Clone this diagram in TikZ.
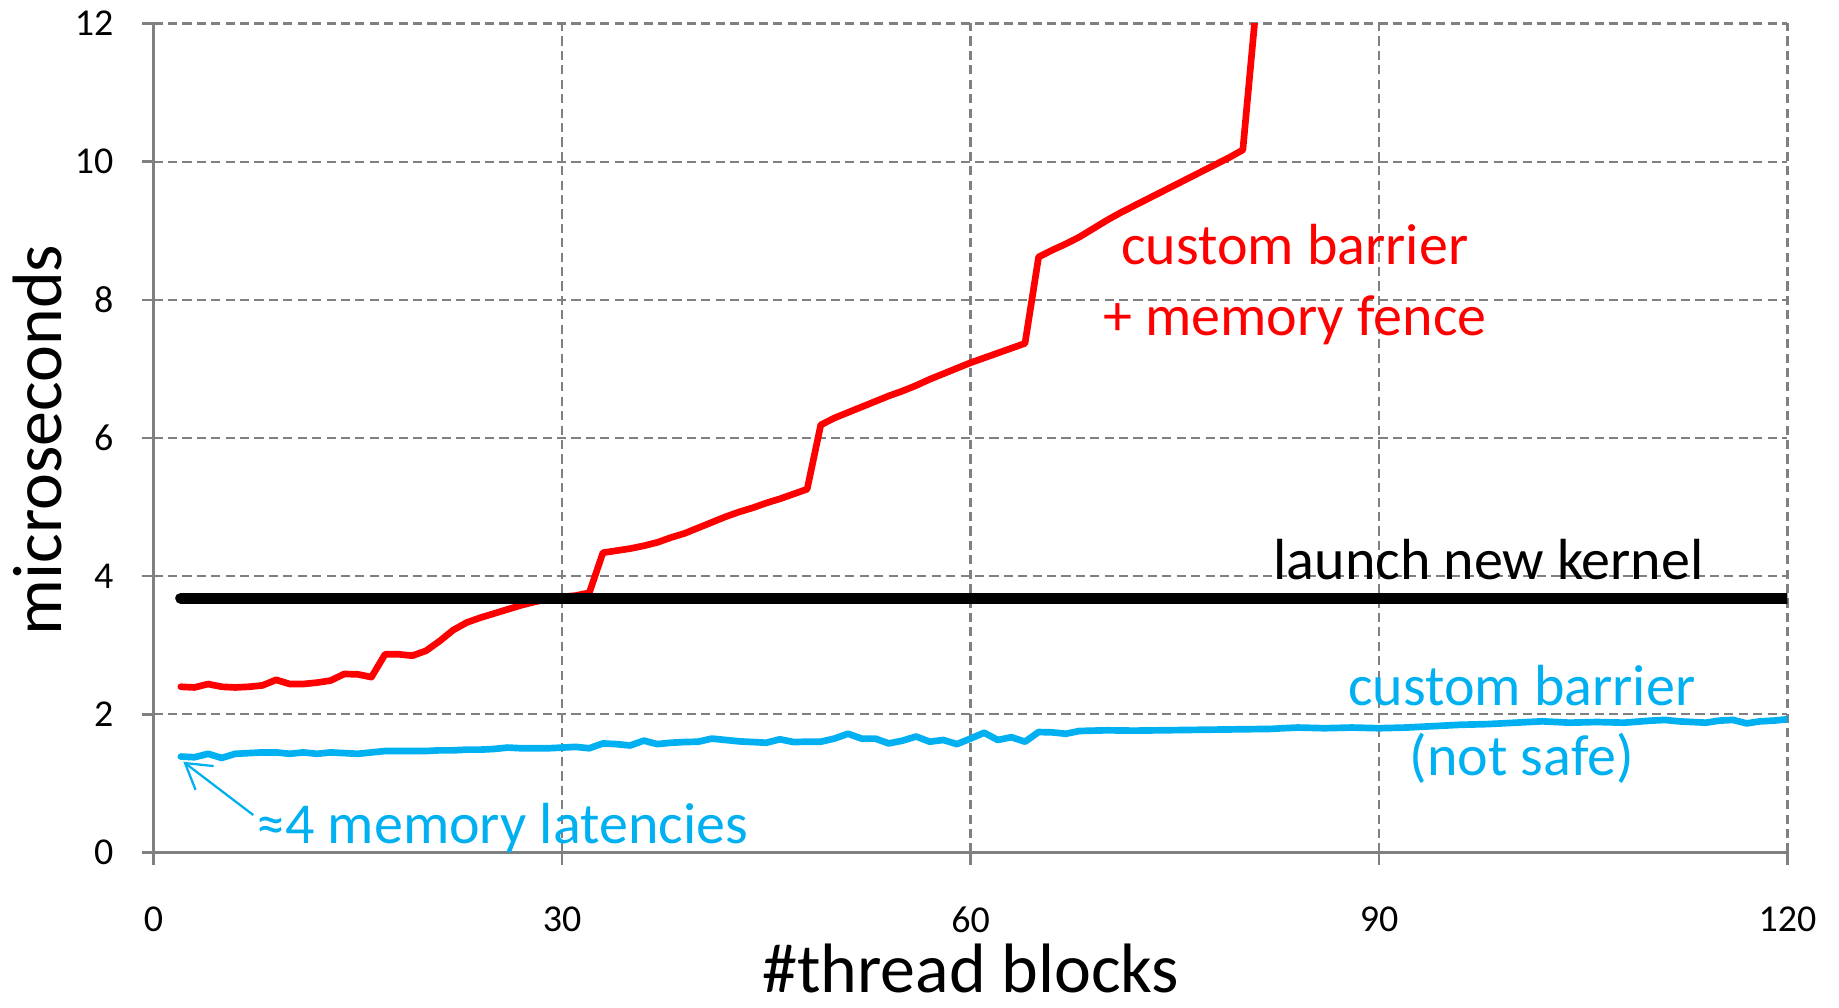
\documentclass[tikz,border=0pt]{standalone}
\usepackage{fontspec}
\setmainfont{Carlito}
\usetikzlibrary{arrows.meta}
\definecolor{gridgray}{HTML}{808080}
\definecolor{fenceRed}{HTML}{FF0000}
\definecolor{safeBlue}{HTML}{00B0F0}

\begin{document}
\begin{tikzpicture}[x=0.13615cm,y=0.6909cm,
  gridline/.style={gridgray,line width=0.6pt,dash pattern=on 2.6pt off 1.5pt},
  axisline/.style={gridgray,line width=0.7pt},
  ticklbl/.style={font=\fontsize{10.8}{12}\selectfont,inner sep=0pt},
  annot/.style={font=\fontsize{16.5}{19.9}\selectfont,inner sep=0pt},
  axtitle/.style={font=\fontsize{19.9}{24}\selectfont,inner sep=0pt},
  series/.style={line width=1.9pt,line join=round,line cap=round}]

\useasboundingbox (-1.536cm,-1.554cm) rectangle (16.854cm,8.526cm);

% dashed grid
\foreach \yv in {2,4,...,12}
  \draw[gridline] (0,\yv) -- (120,\yv);
\foreach \xv in {30,60,90,120}
  \draw[gridline] (\xv,0) -- (\xv,12);

% axes with outward ticks
\draw[axisline] (0,-0.174) -- (0,12);
\draw[axisline] (0,0) -- (120,0);
\foreach \yv in {0,2,...,12}
  \draw[axisline] (-0.88,\yv) -- (0,\yv);
\foreach \xv in {0,30,60,90,120}
  \draw[axisline] (\xv,0) -- (\xv,-0.174);

% tick labels
\foreach \yv in {0,2,...,12}
  \node[ticklbl,anchor=east] (yt\yv) at (-2.91,\yv) {\yv};
\foreach \xv in {0,30,60,90,120}
  \node[ticklbl] (xt\xv) at (\xv,-0.968) {\xv};

% axis titles
\node[axtitle,rotate=90,anchor=base] (ylab) at (-6.75,5.97) {microseconds};
\node[axtitle,anchor=base] (xlab) at (60.02,-2.03) {\#thread blocks};

\begin{scope}
\clip (0,-0.5) rectangle (120,12);
% custom barrier + memory fence
\draw[series,fenceRed] (2,2.40) -- (3,2.39) -- (4,2.44) -- (5,2.40) -- (6,2.39) -- (7,2.40)
  -- (8,2.42) -- (9,2.50) -- (10,2.44) -- (11,2.44) -- (12,2.46) -- (13,2.49) -- (14,2.585)
  -- (15,2.58) -- (16,2.54) -- (17,2.87) -- (18,2.87) -- (19,2.85) -- (20,2.92) -- (21,3.06)
  -- (22,3.22) -- (23,3.33) -- (24,3.40) -- (25,3.46) -- (26,3.52) -- (27,3.58) -- (28,3.63)
  -- (29,3.67) -- (30,3.70) -- (31,3.72) -- (32,3.76) -- (33,4.34) -- (34,4.37) -- (35,4.40)
  -- (36,4.44) -- (37,4.49) -- (38,4.56) -- (39,4.62) -- (40,4.70) -- (41,4.78) -- (42,4.86)
  -- (43,4.93) -- (44,4.99) -- (45,5.06) -- (46,5.12) -- (47,5.19) -- (48,5.26) -- (49,6.19)
  -- (50,6.29) -- (51,6.37) -- (52,6.45) -- (53,6.53) -- (54,6.61) -- (55,6.68) -- (56,6.76)
  -- (57,6.85) -- (58,6.93) -- (59,7.01) -- (60,7.09) -- (61,7.16) -- (62,7.23) -- (63,7.30)
  -- (64,7.37) -- (65,8.62) -- (66,8.72) -- (67,8.81) -- (68,8.91) -- (69,9.03) -- (70,9.15)
  -- (71,9.26) -- (72,9.36) -- (73,9.46) -- (74,9.56) -- (75,9.66) -- (76,9.76) -- (77,9.86)
  -- (78,9.96) -- (79,10.06) -- (80,10.17) -- (81,12.3);
% launch new kernel
\draw[black,line width=3.2pt,line cap=round] (2,3.68) -- (121,3.68);
% custom barrier (not safe)
\coordinate (b0) at (2,1.39);
\draw[series,safeBlue] (b0) -- (3,1.38) -- (4,1.43) -- (5,1.37) -- (6,1.43) -- (7,1.44)
  -- (8,1.45) -- (9,1.45) -- (10,1.43) -- (11,1.45) -- (12,1.43) -- (13,1.45) -- (14,1.44)
  -- (15,1.43) -- (16,1.45) -- (17,1.47) -- (18,1.47) -- (19,1.47) -- (20,1.47) -- (21,1.48)
  -- (22,1.48) -- (23,1.49) -- (24,1.49) -- (25,1.50) -- (26,1.52) -- (27,1.51) -- (28,1.51)
  -- (29,1.51) -- (30,1.52) -- (31,1.53) -- (32,1.51) -- (33,1.58) -- (34,1.57) -- (35,1.55)
  -- (36,1.62) -- (37,1.57) -- (38,1.59) -- (39,1.60) -- (40,1.605) -- (41,1.65) -- (42,1.63)
  -- (43,1.61) -- (44,1.60) -- (45,1.59) -- (46,1.64) -- (47,1.60) -- (48,1.605) -- (49,1.605)
  -- (50,1.65) -- (51,1.72) -- (52,1.65) -- (53,1.65) -- (54,1.58) -- (55,1.62) -- (56,1.68)
  -- (57,1.605) -- (58,1.63) -- (59,1.57) -- (60,1.65) -- (61,1.735) -- (62,1.63) -- (63,1.67)
  -- (64,1.605) -- (65,1.745) -- (66,1.74) -- (67,1.72) -- (68,1.76) -- (70,1.77) -- (72,1.765)
  -- (74,1.77) -- (76,1.775) -- (78,1.78) -- (80,1.785) -- (82,1.79) -- (84,1.81) -- (86,1.80)
  -- (88,1.81) -- (90,1.80) -- (92,1.81) -- (94,1.83) -- (96,1.85) -- (98,1.86) -- (100,1.88)
  -- (102,1.90) -- (104,1.88) -- (106,1.89) -- (108,1.88) -- (110,1.91) -- (111,1.92)
  -- (112,1.90) -- (114,1.88) -- (115,1.91) -- (116,1.92) -- (117,1.87) -- (118,1.90)
  -- (119,1.91) -- (120,1.93);
\end{scope}

% series labels
\node[annot,text=fenceRed,anchor=base] (redA) at (83.82,8.505) {custom barrier};
\node[annot,text=fenceRed,anchor=base] (redB) at (83.82,7.49) {+ memory fence};
\node[annot,text=black,anchor=base] (kern) at (98.05,3.946) {launch new kernel};
\node[annot,text=safeBlue,anchor=base] (blueA) at (100.49,2.136) {custom barrier};
\node[annot,text=safeBlue,anchor=base] (blueB) at (100.49,1.123) {(not safe)};

% latency annotation
\node[annot,text=safeBlue,anchor=base west] (lat) at (7.50,0.135) {≈4 memory latencies};
\coordinate (lattail) at (7.32,0.544);
\coordinate (lattip) at (2.18,1.315);
\draw[safeBlue,line width=0.65pt,-{Straight Barb[length=7pt,width=8.5pt]}] (lattail) -- (lattip);
\end{tikzpicture}
\end{document}
